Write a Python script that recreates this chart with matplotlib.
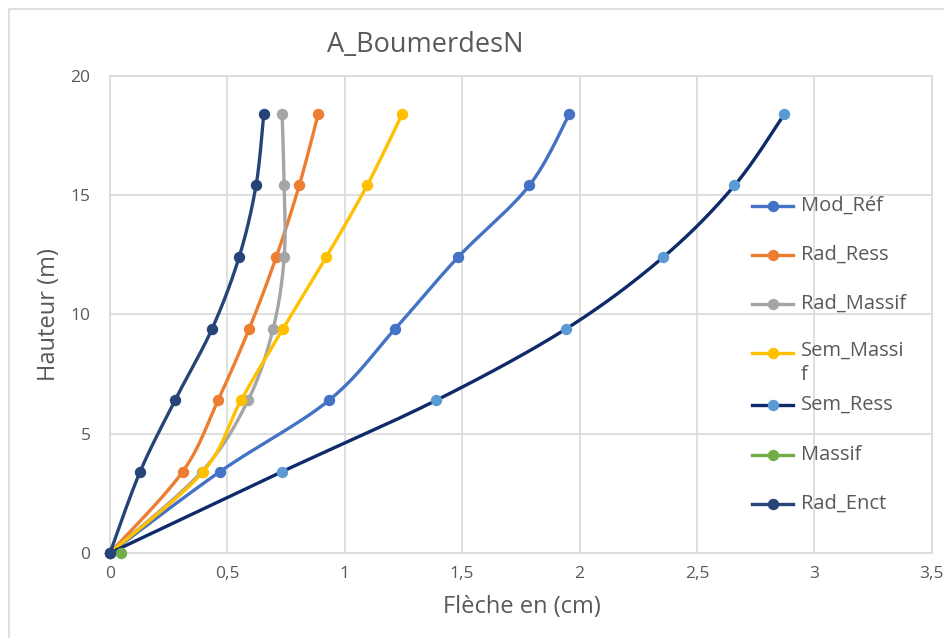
import numpy as np
import matplotlib
matplotlib.use("Agg")
import matplotlib.pyplot as plt
from matplotlib.lines import Line2D

plt.rcParams['font.family'] = ['Open Sans', 'DejaVu Sans']

# Heights of the levels (m)
hauteur = [0, 3.4, 6.4, 9.4, 12.4, 15.4, 18.4]

# Deflection per model (cm)
mod_ref = [0, 0.467, 0.933, 1.215, 1.483, 1.786, 1.957]
rad_ress = [0, 0.309, 0.460, 0.593, 0.708, 0.806, 0.887]
rad_massif = [0, 0.390, 0.588, 0.695, 0.742, 0.742, 0.733]
sem_massif = [0, 0.396, 0.558, 0.737, 0.921, 1.095, 1.245]
sem_ress = [0, 0.731, 1.390, 1.944, 2.357, 2.660, 2.873]
massif_x = [0.047]
massif_y = [0]
rad_enct = [0, 0.128, 0.277, 0.435, 0.550, 0.622, 0.655]

legend_labels = ["Mod_Réf", "Rad_Ress", "Rad_Massif", "Sem_Massi\nf", "Sem_Ress", "Massif", "Rad_Enct"]
line_colors = ["#4472C4", "#ED7D31", "#A5A5A5", "#FFC000", "#0E2A6B", "#70AD47", "#264478"]
marker_colors = ["#4472C4", "#ED7D31", "#A5A5A5", "#FFC000", "#5B9BD5", "#70AD47", "#264478"]
series_x = [mod_ref, rad_ress, rad_massif, sem_massif, sem_ress, massif_x, rad_enct]
series_y = [hauteur, hauteur, hauteur, hauteur, hauteur, massif_y, hauteur]

x_ticks = [0, 0.5, 1, 1.5, 2, 2.5, 3, 3.5]
x_tick_labels = ["0", "0,5", "1", "1,5", "2", "2,5", "3", "3,5"]
y_ticks = [0, 5, 10, 15, 20]

TXT = "#595959"
GRID = "#D9D9D9"
W, H = 944, 638

fig = plt.figure(figsize=(W / 100, H / 100), dpi=100)
fig.patch.set_facecolor("white")

# Chart frame (left and top edges)
fig.add_artist(Line2D([9 / W, 9 / W, 1], [0, 1 - 9 / H, 1 - 9 / H],
                      transform=fig.transFigure, color=GRID, lw=1.2))

x0, x1 = 110, 931.7
y0, y1 = 553, 75.7
ax = fig.add_axes([x0 / W, 1 - y0 / H, (x1 - x0) / W, (y0 - y1) / H])
ax.set_xlim(0, 3.5)
ax.set_ylim(0, 20)
ax.set_xticks(x_ticks)
ax.set_xticklabels(x_tick_labels)
ax.set_yticks(y_ticks)
ax.grid(True, color=GRID, lw=1.2)
ax.set_axisbelow(True)
for s in ax.spines.values():
    s.set_color(GRID)
    s.set_linewidth(1.2)
ax.tick_params(length=0, labelsize=12.5, colors=TXT)
ax.tick_params(axis='y', pad=14)
ax.tick_params(axis='x', pad=9)

ax.set_xlabel("Flèche en (cm)", fontsize=17, color=TXT)
ax.set_ylabel("Hauteur (m)", fontsize=17, color=TXT)
ax.xaxis.set_label_coords((522 - x0) / (x1 - x0), -(607 - y0) / (y0 - y1))
ax.yaxis.set_label_coords(-(x0 - 49) / (x1 - x0), 0.5)
ax.xaxis.label.set_va("center")
ax.yaxis.label.set_va("center")

fig.text(425 / W, 1 - 45 / H, "A_BoumerdesN", ha="center", va="center",
         fontsize=19.5, color=TXT)


def smooth_curve(xs, ys, n=40):
    """Cubic Bezier smoothing through the points, computed in pixel space."""
    pts = ax.transData.transform(np.column_stack([xs, ys]))
    if len(pts) < 3:
        return np.asarray(xs), np.asarray(ys)
    out = [pts[0]]
    t = np.linspace(0, 1, n)[1:, None]
    for i in range(len(pts) - 1):
        p0 = pts[i - 1] if i > 0 else pts[i]
        p1, p2 = pts[i], pts[i + 1]
        p3 = pts[i + 2] if i + 2 < len(pts) else pts[i + 1]
        c1 = p1 + (p2 - p0) / 6
        c2 = p2 - (p3 - p1) / 6
        seg = (1 - t) ** 3 * p1 + 3 * (1 - t) ** 2 * t * c1 + 3 * (1 - t) * t ** 2 * c2 + t ** 3 * p2
        out.extend(seg)
    back = ax.transData.inverted().transform(np.array(out))
    return back[:, 0], back[:, 1]


for k, (xs, ys) in enumerate(zip(series_x, series_y)):
    sx, sy = smooth_curve(xs, ys)
    ax.plot(sx, sy, color=line_colors[k], lw=2.4, zorder=3 + 2 * k,
            solid_capstyle="round", clip_on=False)
    ax.plot(xs, ys, ls="none", marker="o", ms=8.2, color=marker_colors[k],
            markeredgewidth=0, zorder=4 + 2 * k, clip_on=False)

# Legend
leg_y = [206, 255, 304, 353, 405, 455, 504]
for k, lab in enumerate(legend_labels):
    yy = 1 - leg_y[k] / H
    fig.add_artist(Line2D([752 / W, 772.5 / W, 793 / W], [yy, yy, yy],
                          transform=fig.transFigure, color=line_colors[k], lw=2.4,
                          marker="o", ms=8.2, markevery=[1],
                          markerfacecolor=marker_colors[k], markeredgewidth=0))
    if "\n" in lab:
        fig.text(801 / W, yy + 12 / H, lab, ha="left", va="top",
                 fontsize=14.5, color=TXT, linespacing=1.3)
    else:
        fig.text(801 / W, yy, lab, ha="left", va="center",
                 fontsize=14.5, color=TXT)

fig.savefig("out.png", dpi=100, facecolor="white")
